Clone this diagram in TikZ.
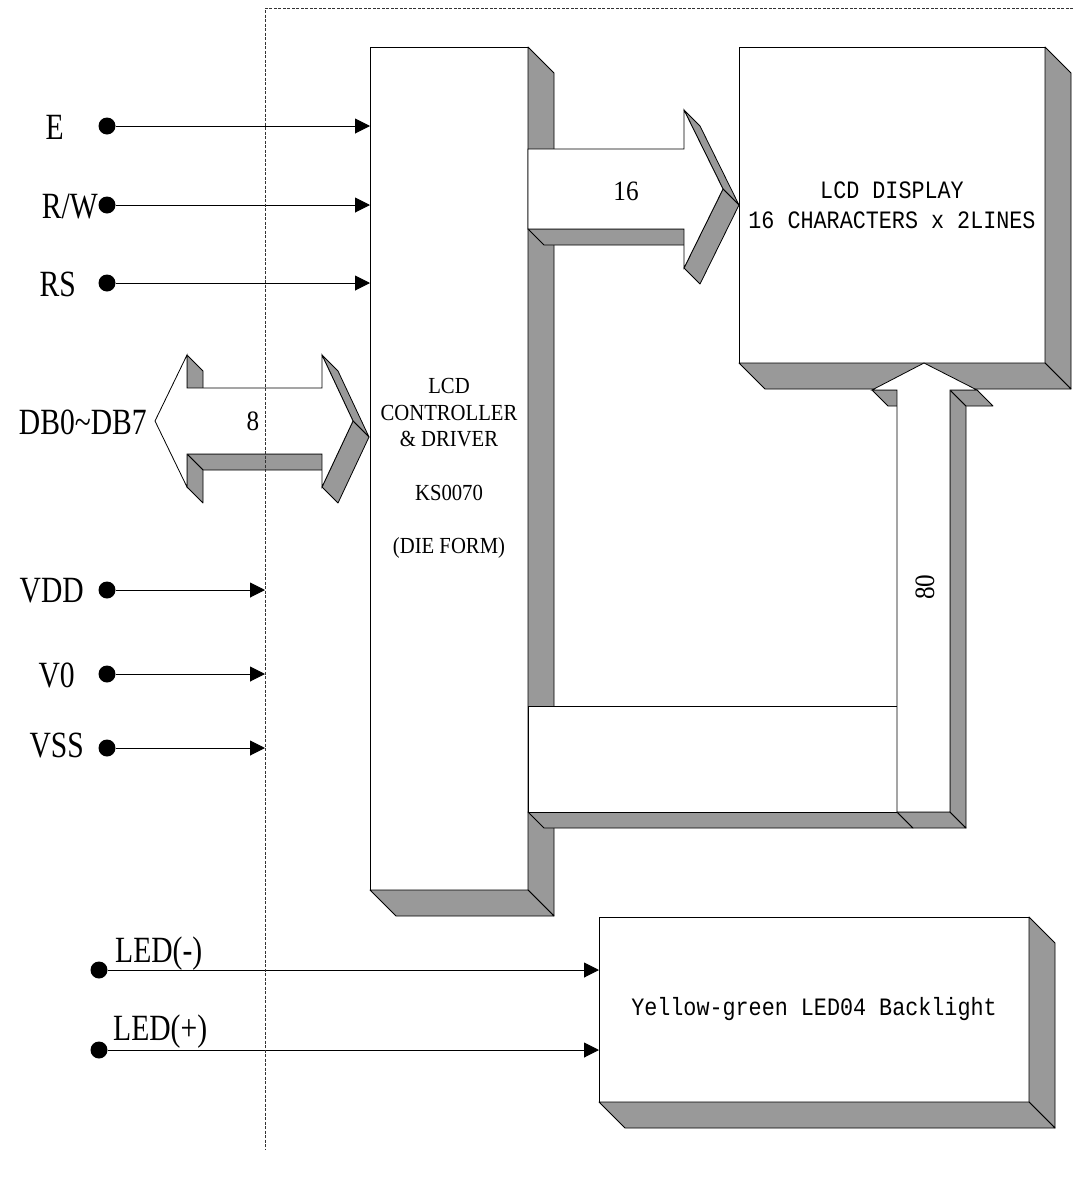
\documentclass[tikz,border=0pt]{standalone}
\usepackage{fontspec}
\setmainfont{Liberation Serif}
\newfontfamily\pinfont[FakeStretch=0.8]{Liberation Serif}
\newfontfamily\chipfont[FakeStretch=0.9]{Liberation Serif}
\newfontfamily\dispfont[FakeStretch=0.87]{Liberation Mono}
\usepackage{tikz}
\usetikzlibrary{arrows.meta,positioning}
\definecolor{shade}{HTML}{999999}
\tikzset{
  face/.style={draw=black,fill=white,line width=0.8pt,outer sep=0pt,
               line join=miter},
  side/.style={draw=black,fill=shade,line width=0.8pt,line join=round},
  pin/.style={circle,fill=black,inner sep=0pt,minimum size=17pt},
  sig/.style={-{Triangle[length=15pt,width=15pt]},line width=1pt},
  pinlabel/.style={font=\pinfont\fontsize{37}{40}\selectfont,inner sep=0pt,
                   anchor=base east},
  numlabel/.style={font=\chipfont\fontsize{28}{30}\selectfont,inner sep=0pt},
  boundary/.style={dash pattern=on 3pt off 1.5pt,line width=1pt,black!80},
}
\newcommand{\sidefaces}[2]{%
  \draw[side] (#1.north east) -- ++(#2,#2) -- ([shift={(#2,#2)}]#1.south east)
    -- (#1.south east) -- cycle;
  \draw[side] (#1.south west) -- ([shift={(#2,#2)}]#1.south west)
    -- ([shift={(#2,#2)}]#1.south east) -- (#1.south east) -- cycle;}

\begin{document}
\begin{tikzpicture}[x=1pt,y=-1pt]
  \useasboundingbox (0,0) rectangle (1073,1178);

  \node[face,anchor=north west,minimum width=158pt,minimum height=843pt,
        font=\chipfont\fontsize{23}{26.7}\selectfont,align=center] (ctrl) at (370,47)
    {LCD\\CONTROLLER\\\& DRIVER\\[26.7pt]KS0070\\[26.7pt](DIE FORM)};
  \sidefaces{ctrl}{26}

  \node[face,anchor=north west,minimum width=306pt,minimum height=316pt,
        font=\dispfont\fontsize{25}{30}\selectfont,align=center] (lcd) at (739,47)
    {LCD DISPLAY\\16 CHARACTERS x 2LINES};
  \sidefaces{lcd}{26}

  \draw[side] (528,229) -- (684,229) -- (700,245) -- (544,245) -- cycle;
  \draw[side] (684,110) -- (700,126) -- (739,205) -- (723,189) -- cycle;
  \draw[side] (723,189) -- (739,205) -- (700,284) -- (684,268) -- cycle;
  \draw[face] (528,149) -- (684,149) -- (684,110) -- (723,189) -- (684,268)
    -- (684,229) -- (528,229) -- cycle;
  \node[numlabel] (n16) at (626,191) {16};

  \draw[side] (528,812) -- (897,812) -- (913,828) -- (544,828) -- cycle;
  \draw[face] (528,706) rectangle (897,812);
  \draw[side] (897,812) -- (950,812) -- (966,828) -- (913,828) -- cycle;
  \draw[side] (950,390) -- (966,406) -- (966,828) -- (950,812) -- cycle;
  \draw[side] (950,390) -- (977,390) -- (993,406) -- (966,406) -- cycle;
  \draw[side] (872,390) -- (897,390) -- (913,406) -- (888,406) -- cycle;
  \draw[face] (897,812) -- (897,390) -- (872,390) -- (924,363) -- (977,390)
    -- (950,390) -- (950,812) -- cycle;
  \node[numlabel,rotate=90] (n80) at (925,587) {80};

  \draw[side] (187,355) -- (203,371) -- (203,404) -- (187,388) -- cycle;
  \draw[side] (187,454) -- (322,454) -- (338,470) -- (203,470) -- cycle;
  \draw[side] (187,454) -- (203,470) -- (203,503) -- (187,487) -- cycle;
  \draw[side] (322,355) -- (338,371) -- (369,437) -- (353,421) -- cycle;
  \draw[side] (353,421) -- (369,437) -- (338,503) -- (322,487) -- cycle;
  \draw[face] (155,421) -- (187,355) -- (187,388) -- (322,388) -- (322,355)
    -- (353,421) -- (322,487) -- (322,454) -- (187,454) -- (187,487) -- cycle;
  \node[numlabel] (n8) at (253,421) {8};

  \node[face,anchor=north west,minimum width=430pt,minimum height=185pt,
        font=\dispfont\fontsize{25}{30}\selectfont] (blight) at (599,917)
    {Yellow-green LED04 Backlight};
  \sidefaces{blight}{26}

  \coordinate (bndtop) at (265,8);
  \coordinate (bndbot) at (265,1150);
  \coordinate (bndend) at (1073,8);

  \node[pin] (e) at (107,126) {};
  \node[pinlabel] (le) at (64,139) {E};
  \node[pin] (rw) at (107,205) {};
  \node[pinlabel] (lrw) at (98,218) {R/W};
  \node[pin] (rs) at (107,283) {};
  \node[pinlabel] (lrs) at (76,296) {RS};
  \node[pinlabel] (ldb) at (147,434) {DB0\textasciitilde DB7};
  \node[pin] (vdd) at (107,590) {};
  \node[pinlabel] (lvdd) at (84,602) {VDD};
  \node[pin] (vo) at (107,674) {};
  \node[pinlabel] (lvo) at (75,687) {V0};
  \node[pin] (vss) at (107,748) {};
  \node[pinlabel] (lvss) at (84,757) {VSS};
  \node[pin] (ledm) at (99,970) {};
  \node[pinlabel,anchor=base west] (lledm) at (115,962) {LED(-)};
  \node[pin] (ledp) at (99,1050) {};
  \node[pinlabel,anchor=base west] (lledp) at (113,1040) {LED(+)};

  \draw[sig] (e) -- (e -| ctrl.west);
  \draw[sig] (rw) -- (rw -| ctrl.west);
  \draw[sig] (rs) -- (rs -| ctrl.west);
  \draw[sig] (vdd) -- (vdd -| bndtop);
  \draw[sig] (vo) -- (vo -| bndtop);
  \draw[sig] (vss) -- (vss -| bndtop);
  \draw[sig] (ledm) -- (ledm -| blight.west);
  \draw[sig] (ledp) -- (ledp -| blight.west);

  \draw[boundary] (bndend) -- (bndtop) -- (bndbot);
\end{tikzpicture}
\end{document}
